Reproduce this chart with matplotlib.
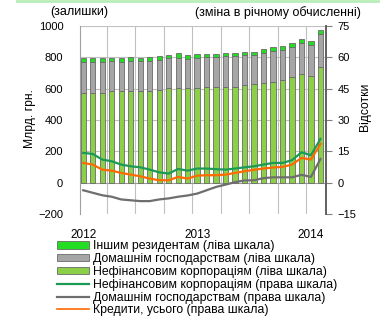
import numpy as np
import matplotlib.pyplot as plt
from matplotlib.patches import Patch
from matplotlib.lines import Line2D

plt.rcParams['font.family'] = ['Liberation Sans', 'DejaVu Sans']

# monthly stocks, bn UAH (Jan 2012 - Feb 2014)
corp_stock = [571, 575, 575, 582, 582, 586, 582, 586, 592, 601, 607, 601, 605,
              613, 613, 613, 613, 624, 629, 635, 645, 654, 673, 692, 682, 741]
households_top = [773, 771, 771, 775, 773, 775, 775, 775, 783, 794, 798, 792, 796,
                  800, 800, 807, 807, 815, 815, 828, 843, 847, 864, 890, 879, 949]
total_stock = [798, 794, 794, 798, 796, 800, 798, 800, 809, 817, 826, 815, 822,
               822, 822, 828, 828, 836, 836, 852, 866, 871, 890, 915, 904, 976]

# year-on-year growth, %
corp_yoy = [14.2, 13.7, 11.0, 10.2, 8.6, 7.8, 7.3, 6.2, 4.9, 4.3, 6.5, 5.7, 6.7,
            6.7, 6.4, 6.2, 6.7, 7.3, 7.8, 8.6, 9.4, 9.4, 10.7, 14.5, 13.1, 20.9]
hh_yoy = [-3.7, -4.9, -6.1, -6.8, -8.1, -8.5, -8.9, -8.9, -8.1, -7.6, -6.8, -6.2, -5.3,
          -3.7, -2.1, -1.0, 0.2, 1.0, 1.1, 2.1, 2.5, 2.5, 2.5, 3.7, 2.7, 11.3]
total_yoy = [9.4, 8.6, 6.2, 5.7, 4.6, 3.8, 3.0, 1.9, 1.1, 1.1, 2.7, 1.9, 3.3,
             3.5, 3.5, 3.8, 4.6, 5.4, 6.1, 6.7, 7.2, 7.5, 8.6, 11.8, 11.0, 18.5]

year_ticks = [0, 12, 24]
year_labels = ['2012', '2013', '2014']

corp = np.array(corp_stock)
households = np.array(households_top) - corp
others = np.array(total_stock) - np.array(households_top)
x = np.arange(len(corp))

c_corp = '#8cd048'
c_hh = '#a6a6a6'
c_oth = '#22dd22'
c_line_corp = '#1a9a55'
c_line_hh = '#6e6e6e'
c_line_tot = '#ff6a00'
edge = '#6a6a6a'

fig = plt.figure(figsize=(3.86, 3.29), dpi=100)
ax = fig.add_axes([0.207, 0.35, 0.638, 0.571])
ax2 = ax.twinx()

w = 0.55
ax.bar(x, corp, w, color=c_corp, edgecolor=edge, linewidth=0.6, zorder=3)
ax.bar(x, households, w, bottom=corp, color=c_hh, edgecolor=edge, linewidth=0.6, zorder=3)
ax.bar(x, others, w, bottom=corp + households, color=c_oth, edgecolor=edge,
       linewidth=0.6, zorder=3)

ax.set_xlim(-0.35, 25.6)
ax.set_ylim(-200, 1000)
ax.set_yticks(range(-200, 1001, 200))
for v in range(200, 1001, 200):
    ax.axhline(v, color='#c0c0c0', lw=0.8, zorder=1)
for g in np.arange(2.5, 24, 3):
    ax.axvline(g, color='#c0c0c0', lw=0.8, zorder=1)
ax.axhline(0, color='#999999', lw=0.8, zorder=2)

ax.set_xticks(year_ticks)
ax.set_xticklabels(year_labels)
ax.tick_params(axis='x', length=0, labelsize=8.5, pad=11)
ax.tick_params(axis='y', length=0, labelsize=8, pad=12)
ax.set_ylabel('Млрд. грн.', fontsize=8.7)
ax.yaxis.set_label_coords(-0.18, 0.51)

ax2.plot(x, hh_yoy, color=c_line_hh, lw=1.6, zorder=4)
ax2.plot(x, corp_yoy, color=c_line_corp, lw=1.6, zorder=4)
ax2.plot(x, total_yoy, color=c_line_tot, lw=1.6, zorder=5)
ax2.set_ylim(-15, 75)
ax2.set_yticks(range(-15, 76, 15))
ax2.tick_params(axis='y', length=4, width=0.8, color='#808080', labelsize=8, pad=4)
ax2.set_ylabel('Відсотки', fontsize=8.7)
ax2.yaxis.set_label_coords(1.135, 0.57)

for a in (ax, ax2):
    for s in ('top', 'bottom'):
        a.spines[s].set_visible(False)
ax.spines['left'].set_color('#a0a0a0')
ax.spines['right'].set_visible(False)
ax2.spines['left'].set_visible(False)
ax2.spines['right'].set_color('#606060')
ax2.spines['right'].set_linewidth(1.4)

fig.text(0.13, 0.963, '(залишки)', fontsize=9, va='center')
fig.text(0.505, 0.963, '(зміна в річному обчисленні)', fontsize=9, va='center')
fig.add_artist(Line2D([0.045, 0.98], [0.998, 0.998], color='#b8ecb8', lw=2))

handles = [
    Patch(facecolor=c_oth, edgecolor=edge, linewidth=0.6),
    Patch(facecolor=c_hh, edgecolor=edge, linewidth=0.6),
    Patch(facecolor=c_corp, edgecolor=edge, linewidth=0.6),
    Line2D([], [], color=c_line_corp, lw=1.6),
    Line2D([], [], color=c_line_hh, lw=1.6),
    Line2D([], [], color=c_line_tot, lw=1.2),
]
labels = [
    'Іншим резидентам (ліва шкала)',
    'Домашнім господарствам (ліва шкала)',
    'Нефінансовим корпораціям (ліва шкала)',
    'Нефінансовим корпораціям (права шкала)',
    'Домашнім господарствам (права шкала)',
    'Кредити, усього (права шкала)',
]
fig.legend(handles, labels, loc='upper left', bbox_to_anchor=(0.148, 0.27),
           frameon=False, fontsize=8.8, handlelength=2.6, handleheight=0.55,
           handletextpad=0.3, labelspacing=0.07, borderpad=0, borderaxespad=0)

fig.savefig('out.png', dpi=100)
